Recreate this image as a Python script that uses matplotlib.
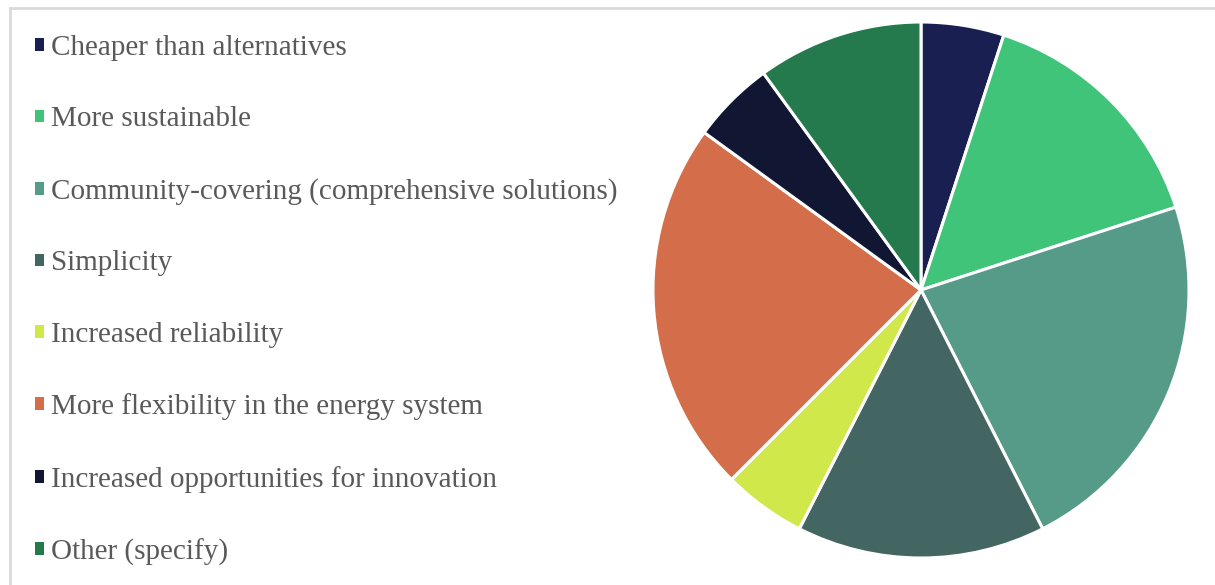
import matplotlib
matplotlib.use("Agg")
import matplotlib.pyplot as plt
from matplotlib.patches import Rectangle, Patch

# survey answers (share of responses, %)
labels = ['Cheaper than alternatives', 'More sustainable',
          'Community-covering (comprehensive solutions)', 'Simplicity',
          'Increased reliability', 'More flexibility in the energy system',
          'Increased opportunities for innovation', 'Other (specify)']
shares = [5, 15, 22.5, 15, 5, 22.5, 5, 10]
colors = ['#1a1f52', '#40c47a', '#569a88', '#436662',
          '#d1e84a', '#d36d4a', '#111633', '#257a4d']

W, H = 1215, 585
fig = plt.figure(figsize=(W / 100, H / 100), dpi=100)

# chart area border (cropped at the right and bottom)
fig.patches.append(Rectangle((10 / W, -0.1), 1.2, (H - 8) / H + 0.1,
                             transform=fig.transFigure, fill=False,
                             edgecolor='#d9d9d9', linewidth=2))

cx, cy, r = 921, 290, 268
ax = fig.add_axes([(cx - r) / W, (H - cy - r) / H, 2 * r / W, 2 * r / H])
ax.pie(shares, colors=colors, startangle=90, counterclock=False, radius=1,
       wedgeprops=dict(edgecolor='white', linewidth=2.2))
ax.set_xlim(-1.0, 1.0)
ax.set_ylim(-1.0, 1.0)
ax.set_aspect('equal')
ax.axis('off')

handles = [Patch(facecolor=c, edgecolor='none') for c in colors]
leg = fig.legend(handles, labels, loc='upper left', bbox_to_anchor=(35 / W, 1 - 35 / H),
                 frameon=False, borderpad=0, borderaxespad=0,
                 handlelength=0.3, handleheight=0.3,
                 handletextpad=0.25, labelspacing=1.56,
                 prop=dict(family='Liberation Serif', size=21))
for t in leg.get_texts():
    t.set_color('#595959')

fig.savefig('out.png', dpi=100)
